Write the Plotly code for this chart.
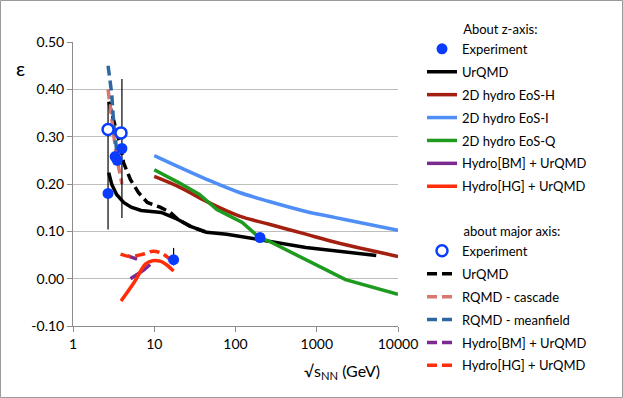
import plotly.graph_objects as go

# --- data (sqrt(s_NN) in GeV, eccentricity epsilon) ---
exp_z_x = [2.7, 3.3, 3.5, 4.0, 17.3, 200]
exp_z_y = [0.18, 0.258, 0.25, 0.275, 0.04, 0.087]
exp_z_err_plus = [0.19, 0, 0, 0.147, 0.025, 0]
exp_z_err_minus = [0.076, 0, 0, 0.147, 0.012, 0]

exp_maj_x = [2.7, 3.9]
exp_maj_y = [0.315, 0.308]

urqmd_z_x = [2.75, 3.0, 3.44, 4.2, 5.2, 6.9, 9.2, 12.2, 15.7, 19.6, 27.5, 44, 78, 136, 200, 344, 734, 5400]
urqmd_z_y = [0.224, 0.199, 0.178, 0.161, 0.151, 0.144, 0.142, 0.140, 0.132, 0.125, 0.111, 0.098, 0.094, 0.087, 0.083, 0.077, 0.066, 0.049]

eos_h_x = [10, 20.7, 44, 112, 260, 734, 1700, 10000]
eos_h_y = [0.216, 0.193, 0.163, 0.132, 0.115, 0.094, 0.077, 0.047]

eos_i_x = [10, 20.7, 44, 112, 260, 734, 1700, 4000, 10000]
eos_i_y = [0.26, 0.235, 0.21, 0.182, 0.163, 0.142, 0.129, 0.116, 0.102]

eos_q_x = [10, 20, 36, 59, 121, 196, 260, 2260, 10000]
eos_q_y = [0.23, 0.203, 0.178, 0.146, 0.119, 0.087, 0.079, -0.002, -0.033]

bm_z_x = [5.1, 6.3, 7.4, 8.9]
bm_z_y = [0.0, 0.01, 0.018, 0.03]

hg_z_x = [3.9, 5.7, 7.8, 9.5, 11.8, 14, 17.3]
hg_z_y = [-0.047, -0.007, 0.031, 0.038, 0.037, 0.03, 0.016]

urqmd_maj_x = [2.75, 3.16, 3.85, 4.19, 5.1, 6.38, 8.22, 11.8, 15.7, 19.6, 27.5, 44]
urqmd_maj_y = [0.374, 0.332, 0.279, 0.245, 0.209, 0.182, 0.161, 0.151, 0.140, 0.125, 0.111, 0.098]

rqmd_casc_x = [2.7, 3.0, 3.3, 3.6, 4.0]
rqmd_casc_y = [0.40, 0.33, 0.28, 0.24, 0.20]

rqmd_mf_x = [2.7, 3.0, 3.16, 3.35, 3.5]
rqmd_mf_y = [0.45, 0.39, 0.33, 0.29, 0.26]

bm_maj_x = [4.7, 5.2, 6.2]
bm_maj_y = [0.048, 0.046, 0.041]

hg_maj_x = [3.85, 5.1, 7.4, 9.7, 12.8, 17]
hg_maj_y = [0.052, 0.047, 0.052, 0.058, 0.052, 0.035]

y_ticks = [-0.1, 0.0, 0.1, 0.2, 0.3, 0.4, 0.5]
y_tick_text = ["-0.10", "0.00", "0.10", "0.20", "0.30", "0.40", "0.50"]
x_ticks = [1, 10, 100, 1000, 10000]
x_tick_text = ["1", "10", "100", "1000", "10000"]

BLUE = "#0A3CFF"
FONT = "Lato"
NB = "\u00a0" * 11
DASH = "10px,5px"
TITLE_FONT = dict(size=13, family=FONT, color="#000")

# plot area in pixels (fixed margins)
ML, MR, MT, MB = 73, 225, 42, 72
PW, PH = 623 - ML - MR, 398 - MT - MB

fig = go.Figure()


def add_line(x, y, name, color, legend, rank, dash="solid", shape="linear"):
    # every entry is its own legend group so tracegroupgap sets the row spacing
    fig.add_trace(
        go.Scatter(
            x=x,
            y=y,
            mode="lines",
            name=name,
            line=dict(color=color, width=3.5, dash=dash, shape=shape),
            legend=legend,
            legendgroup=f"{legend}-{rank}",
            legendrank=rank,
        )
    )


# z-axis group (solid)
add_line(urqmd_z_x, urqmd_z_y, "UrQMD", "#000000", "legend", 2)
add_line(eos_h_x, eos_h_y, "2D hydro EoS-H", "#A31F0F", "legend", 3, shape="spline")
add_line(eos_i_x, eos_i_y, "2D hydro EoS-I", "#4F8EF7", "legend", 4, shape="spline")
add_line(eos_q_x, eos_q_y, "2D hydro EoS-Q", "#1E9A1E", "legend", 5)
add_line(bm_z_x, bm_z_y, "Hydro[BM] + UrQMD", "#7B2A8F", "legend", 6)
add_line(hg_z_x, hg_z_y, "Hydro[HG] + UrQMD", "#FF2D0A", "legend", 7, shape="spline")

# major-axis group (dashed)
add_line(urqmd_maj_x, urqmd_maj_y, "UrQMD", "#000000", "legend2", 12, dash=DASH)
add_line(rqmd_casc_x, rqmd_casc_y, "RQMD - cascade", "#D9766E", "legend2", 13, dash=DASH)
add_line(rqmd_mf_x, rqmd_mf_y, "RQMD - meanfield", "#2E68A3", "legend2", 14, dash=DASH)
add_line(bm_maj_x, bm_maj_y, "Hydro[BM] + UrQMD", "#7B2A8F", "legend2", 15, dash=DASH)
add_line(hg_maj_x, hg_maj_y, "Hydro[HG] + UrQMD", "#FF2D0A", "legend2", 16, dash=DASH, shape="spline")

# error bars (thin black, no caps)
fig.add_trace(
    go.Scatter(
        x=exp_z_x,
        y=exp_z_y,
        mode="markers",
        marker=dict(size=1, color="rgba(0,0,0,0)"),
        error_y=dict(type="data", symmetric=False, array=exp_z_err_plus,
                     arrayminus=exp_z_err_minus, color="#000000", thickness=1.2, width=0),
        showlegend=False,
        hoverinfo="skip",
    )
)

fig.add_trace(
    go.Scatter(
        x=exp_maj_x,
        y=exp_maj_y,
        mode="markers",
        name="Experiment",
        marker=dict(size=11, color="white", line=dict(color=BLUE, width=2.5)),
        legend="legend2",
        legendgroup="legend2-11",
        legendrank=11,
        legendgrouptitle=dict(text=NB + "about major axis:", font=TITLE_FONT),
    )
)
fig.add_trace(
    go.Scatter(
        x=exp_z_x,
        y=exp_z_y,
        mode="markers",
        name="Experiment",
        marker=dict(size=11, color=BLUE),
        legend="legend",
        legendgroup="legend-1",
        legendrank=1,
        legendgrouptitle=dict(text=NB + "About z-axis:", font=TITLE_FONT),
    )
)

fig.add_annotation(text="ε", xref="paper", yref="paper", x=(20 - ML) / PW, y=1 - (68 - MT) / PH,
                   xanchor="center", yanchor="middle", showarrow=False,
                   font=dict(size=20, family=FONT, color="#000"))
fig.add_annotation(text="√s<sub>NN</sub> (GeV)", xref="paper", yref="paper",
                   x=(342 - ML) / PW, y=-(371 - MT - PH) / PH,
                   xanchor="center", yanchor="middle", showarrow=False,
                   font=dict(size=16, family=FONT, color="#000"))

# grey frame around the whole chart
fig.add_shape(type="rect", xref="paper", yref="paper",
              x0=(0.5 - ML) / PW, x1=(622.5 - ML) / PW,
              y0=-(397.5 - MT - PH) / PH, y1=1 + (MT - 0.5) / PH,
              line=dict(color="#9A9A9A", width=1))

fig.update_xaxes(
    type="log", range=[0, 4], tickvals=x_ticks, ticktext=x_tick_text,
    showgrid=False, showline=True, linecolor="#8C8C8C", linewidth=1,
    ticks="outside", ticklen=5, tickcolor="#8C8C8C",
    tickfont=dict(size=14, family=FONT, color="#000"),
)
fig.update_yaxes(
    range=[-0.1, 0.5], tickvals=y_ticks, ticktext=y_tick_text,
    showgrid=True, gridcolor="#BDBDBD", gridwidth=1, zeroline=False,
    showline=True, linecolor="#8C8C8C", linewidth=1,
    ticks="outside", ticklen=5, tickcolor="#8C8C8C",
    tickfont=dict(size=14, family=FONT, color="#000"),
)
legend_style = dict(
    xanchor="left", yanchor="top",
    font=dict(size=13, family=FONT, color="#000"),
    tracegroupgap=3, itemwidth=30, bgcolor="rgba(0,0,0,0)",
    traceorder="grouped",
)
fig.update_layout(
    width=623,
    height=398,
    margin=dict(l=ML, r=MR, t=MT, b=MB, autoexpand=False),
    paper_bgcolor="white",
    plot_bgcolor="white",
    font=dict(family=FONT, color="#000"),
    legend=dict(x=(422 - ML) / PW, y=1 + (MT - 14) / PH, **legend_style),
    legend2=dict(x=(422 - ML) / PW, y=1 - (216 - MT) / PH, **legend_style),
)

fig.write_html("out.html", config={"displayModeBar": False},
               post_script="document.body.style.margin = '0px';")
